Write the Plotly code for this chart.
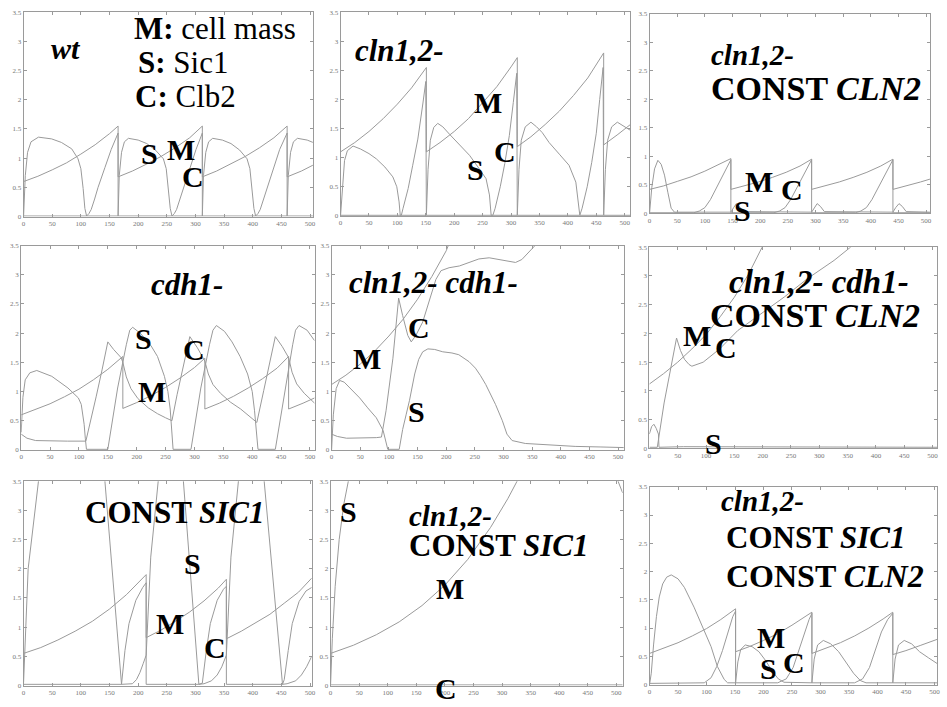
import plotly.graph_objects as go

W, H = 947, 707

# ---------------- tick labels ----------------
X_TICKS = [0, 50, 100, 150, 200, 250, 300, 350, 400, 450, 500]
X_TICK_TEXT = ["0", "50", "100", "150", "200", "250", "300", "350", "400", "450", "500"]
Y_TICKS = [0, 0.5, 1, 1.5, 2, 2.5, 3, 3.5]
Y_TICK_TEXT = ["0", "0.5", "1", "1.5", "2", "2.5", "3", "3.5"]

# ---------------- data: (time, level) pairs ----------------
# panel 1: wt
wt_mass = [(0,0.6),(25,0.69),(50,0.8),(75,0.92),(100,1.07),(125,1.23),(150,1.42),(165,1.55),(165,0.68),
           (190,0.78),(215,0.9),(240,1.03),(265,1.18),(290,1.35),(312,1.55),(312,0.68),(337,0.78),(362,0.9),
           (387,1.03),(412,1.18),(437,1.35),(460,1.55),(460,0.68),(485,0.78),(505,0.88)]
wt_sic1 = [(0,0.0),(3,0.7),(7,1.1),(13,1.28),(26,1.36),(49,1.33),(66,1.27),(84,1.16),(95,0.99),(100,0.82),
           (104,0.48),(107,0.14),(110,0.01),(165,0.01),(167,0.7),(171,1.1),(176,1.28),(183,1.34),(200,1.31),
           (215,1.25),(230,1.14),(244,0.99),(249,0.82),(253,0.48),(256,0.14),(259,0.01),(312,0.01),(314,0.7),
           (318,1.1),(323,1.28),(330,1.34),(347,1.31),(362,1.25),(377,1.14),(390,0.99),(395,0.82),(399,0.48),
           (402,0.14),(405,0.01),(460,0.01),(462,0.7),(466,1.1),(471,1.28),(478,1.34),(495,1.31),(505,1.27)]
wt_clb2 = [(0,0.01),(110,0.01),(114,0.05),(118,0.12),(124,0.3),(130,0.5),(142,0.84),(153,1.15),(165,1.43),
           (165,0.01),(259,0.01),(263,0.05),(267,0.12),(273,0.3),(279,0.5),(290,0.84),(301,1.15),(312,1.43),
           (312,0.01),(405,0.01),(409,0.05),(413,0.12),(419,0.3),(425,0.5),(436,0.84),(447,1.15),(460,1.43),
           (460,0.01),(505,0.01)]

# panel 2: cln1,2-
cln_mass = [(0,1.1),(25,1.26),(50,1.45),(75,1.67),(100,1.92),(125,2.2),(151,2.55),(151,1.1),(175,1.26),
            (200,1.45),(225,1.67),(250,1.94),(275,2.22),(300,2.56),(311,2.72),(311,1.19),(335,1.36),(360,1.57),
            (385,1.8),(410,2.07),(435,2.37),(463,2.8),(463,1.22),(488,1.4),(510,1.57)]
cln_sic1 = [(0,0.0),(3,0.5),(7,0.95),(12,1.12),(22,1.2),(35,1.15),(50,1.07),(63,0.98),(78,0.84),(92,0.67),
            (99,0.5),(103,0.24),(105,0.01),(151,0.01),(154,0.8),(158,1.3),(164,1.52),(171,1.59),(180,1.53),
            (192,1.4),(209,1.23),(227,1.04),(244,0.81),(256,0.64),(262,0.36),(265,0.01),(311,0.01),(314,0.8),
            (318,1.3),(325,1.53),(335,1.61),(345,1.53),(355,1.43),(367,1.26),(385,1.06),(402,0.87),(414,0.58),
            (418,0.24),(421,0.01),(463,0.01),(466,0.8),(470,1.3),(477,1.53),(487,1.61),(498,1.55),(510,1.47)]
cln_clb2 = [(0,0.01),(107,0.01),(110,0.13),(119,0.47),(127,0.87),(136,1.32),(145,1.94),(150,2.31),(151,0.01),
            (268,0.01),(272,0.13),(281,0.5),(289,0.9),(297,1.38),(304,1.95),(310,2.45),(311,0.01),(421,0.01),
            (425,0.13),(434,0.5),(442,0.92),(450,1.42),(456,2.0),(462,2.55),(463,0.01),(510,0.01)]

# panel 3: cln1,2- CONST CLN2
clnc_mass = [(0,0.42),(25,0.48),(50,0.56),(75,0.64),(100,0.74),(125,0.85),(147,0.96),(147,0.42),(172,0.48),
             (197,0.55),(222,0.63),(247,0.72),(272,0.83),(293,0.95),(293,0.42),(318,0.48),(343,0.55),(368,0.63),
             (393,0.72),(418,0.83),(440,0.95),(440,0.42),(465,0.48),(490,0.55),(507,0.6)]
clnc_sic1 = [(0,0.0),(4,0.45),(9,0.78),(15,0.93),(21,0.86),(27,0.67),(33,0.37),(39,0.09),(45,0.02),(147,0.02),
             (152,0.1),(157,0.17),(163,0.11),(170,0.03),(293,0.02),(298,0.1),(303,0.17),(309,0.12),(316,0.03),
             (440,0.02),(445,0.1),(451,0.17),(457,0.12),(464,0.03),(507,0.02)]
clnc_clb2 = [(0,0.01),(80,0.01),(90,0.04),(100,0.1),(110,0.24),(120,0.43),(130,0.6),(138,0.78),(147,0.94),
             (147,0.01),(225,0.01),(235,0.04),(245,0.1),(255,0.24),(265,0.43),(275,0.6),(284,0.78),(293,0.94),
             (293,0.01),(372,0.01),(382,0.04),(392,0.1),(402,0.24),(412,0.43),(422,0.6),(431,0.78),(440,0.94),
             (440,0.01),(507,0.01)]

# panel 4: cdh1-
cdh_mass = [(0,0.6),(25,0.69),(50,0.79),(75,0.91),(100,1.04),(125,1.2),(150,1.38),(176,1.6),(176,0.71),
            (200,0.81),(225,0.93),(250,1.07),(275,1.23),(300,1.41),(318,1.57),(318,0.7),(343,0.8),(368,0.92),
            (393,1.06),(418,1.22),(443,1.4),(463,1.6),(463,0.7),(488,0.8),(508,0.89)]
cdh_sic1 = [(0,0.3),(3,0.9),(7,1.2),(15,1.32),(27,1.36),(53,1.26),(81,1.06),(99,0.89),(104,0.78),(109,0.44),
            (111,0.2),(113,0.01),(150,0.01),(167,1.06),(182,1.8),(188,2.05),(193,2.1),(207,1.99),(225,1.78),
            (236,1.6),(248,1.26),(254,1.0),(258,0.7),(261,0.3),(263,0.01),(294,0.01),(311,1.06),(326,1.8),
            (332,2.05),(338,2.13),(352,2.03),(365,1.85),(379,1.6),(392,1.3),(400,1.0),(404,0.67),(407,0.27),
            (410,0.01),(440,0.01),(457,1.06),(470,1.8),(475,2.05),(481,2.13),(495,2.05),(508,1.87)]
cdh_clb2 = [(0,0.27),(10,0.2),(25,0.16),(50,0.15),(80,0.15),(112,0.15),(120,0.47),(130,0.92),(140,1.37),
            (150,1.85),(160,1.72),(173,1.58),(176,1.5),(182,1.25),(190,1.05),(202,0.88),(220,0.72),(236,0.62),
            (250,0.55),(261,0.5),(270,0.95),(280,1.4),(292,1.94),(305,1.75),(318,1.52),(324,1.3),(332,1.12),
            (345,0.97),(362,0.82),(380,0.7),(395,0.58),(408,0.47),(420,1.02),(430,1.47),(440,1.94),(452,1.77),
            (463,1.58),(469,1.33),(477,1.13),(490,0.97),(508,0.8)]

# panel 5: cln1,2- cdh1-
cc_mass = [(0,1.12),(25,1.28),(50,1.47),(75,1.69),(100,1.95),(125,2.24),(150,2.58),(175,2.97),(200,3.41),
           (215,3.78)]
cc_sic1 = [(0,0.0),(3,0.6),(8,1.05),(14,1.19),(22,1.16),(35,1.03),(49,0.89),(63,0.72),(78,0.55),(90,0.33),
           (95,0.15),(98,0.01),(118,0.01),(124,0.35),(130,0.6),(136,0.85),(145,1.3),(152,1.55),(159,1.68),
           (168,1.73),(180,1.72),(194,1.68),(210,1.66),(222,1.63),(240,1.51),(251,1.4),(260,1.27),(269,1.12),
           (286,0.78),(298,0.5),(306,0.27),(315,0.16),(338,0.11),(367,0.09),(425,0.06),(470,0.05),(510,0.04)]
cc_clb2 = [(0,0.27),(10,0.23),(26,0.2),(50,0.2),(78,0.21),(87,0.22),(95,0.67),(107,1.57),(117,2.6),(124,2.3),
           (133,1.96),(139,1.85),(147,1.96),(159,2.19),(170,2.53),(182,2.92),(191,3.07),(205,3.12),(223,3.15),
           (240,3.21),(257,3.27),(275,3.29),(292,3.26),(309,3.22),(321,3.21),(332,3.26),(344,3.38),(355,3.5),
           (365,3.62)]

# panel 6: cln1,2- cdh1- CONST CLN2
ccc_mass = [(0,1.12),(25,1.3),(50,1.5),(75,1.73),(100,1.98),(125,2.29),(150,2.63),(175,3.03),(199,3.5),
            (210,3.7)]
ccc_sic1 = [(0,0.25),(4,0.38),(8,0.42),(12,0.35),(16,0.25),(17,0.02),(60,0.03),(150,0.03),(250,0.03),
            (350,0.02),(508,0.02)]
ccc_clb2 = [(0,0.02),(14,0.02),(26,0.79),(37.5,1.39),(48,1.92),(55,1.7),(62,1.55),(70,1.46),(75,1.43),
            (95,1.5),(124,1.73),(156,2.05),(199,2.36),(239,2.64),(280,2.96),(326,3.27),(355,3.5),(370,3.6)]

# panel 7: CONST SIC1
cs_mass = [(0,0.55),(30,0.65),(60,0.78),(90,0.93),(120,1.1),(150,1.31),(180,1.56),(214,1.9),(214,0.82),
           (240,0.95),(265,1.1),(290,1.26),(315,1.45),(340,1.67),(354,1.82),(354,0.8),(380,0.93),(405,1.07),
           (430,1.22),(455,1.41),(480,1.6),(503,1.84)]
cs_sic1 = [(0,0.05),(8,2.0),(26,3.5),(40,4.6),(120,4.8),(142,3.5),(171,0.02),(190,0.03),(197,0.1),(203,0.22),
           (209,0.38),(214,0.52),(222,2.2),(234,3.5),(245,4.5),(268,4.6),(279,3.5),(306,0.02),(315,0.03),
           (328,0.08),(338,0.18),(346,0.32),(354,0.52),(362,2.2),(374,3.5),(385,4.5),(408,4.6),(420,3.5),
           (452,0.02),(460,0.03),(475,0.08),(485,0.18),(494,0.32),(503,0.5)]
cs_clb2 = [(0,0.02),(171,0.02),(177,0.6),(184,1.06),(196,1.46),(208,1.68),(214,1.76),(214,0.02),(306,0.02),
           (312,0.04),(319,0.6),(326,1.06),(338,1.46),(349,1.65),(354,1.7),(354,0.02),(452,0.02),(455,0.1),
           (462,0.6),(469,1.06),(481,1.44),(493,1.62),(503,1.68)]

# panel 8: cln1,2- CONST SIC1
ccs_mass = [(0,0.55),(40,0.69),(80,0.87),(120,1.09),(160,1.37),(200,1.72),(240,2.16),(280,2.71),(310,3.2),
            (330,3.57)]
ccs_sic1 = [(0,0.02),(3,0.8),(8,1.7),(15,2.5),(23,3.1),(31,3.5),(60,4.6),(450,4.6),(503,3.5),(511,3.3)]
ccs_clb2 = [(0,0.01),(100,0.01),(200,0.01),(300,0.01),(400,0.01),(511,0.01)]

# panel 9: cln1,2- CONST SIC1 CONST CLN2
ccsc_mass = [(0,0.55),(25,0.64),(50,0.74),(75,0.86),(100,0.99),(125,1.15),(151,1.34),(151,0.58),(175,0.67),
             (200,0.78),(225,0.9),(250,1.05),(275,1.22),(285,1.28),(285,0.55),(310,0.64),(335,0.74),(360,0.86),
             (385,1.0),(410,1.16),(427,1.28),(427,0.53),(450,0.6),(475,0.69),(505,0.8)]
ccsc_sic1 = [(0,0.0),(3,0.2),(7,0.7),(12,1.2),(17,1.55),(23,1.78),(30,1.9),(38,1.94),(50,1.87),(61,1.72),
             (78,1.37),(93,1.02),(108,0.67),(119,0.32),(131,0.09),(137,0.03),(151,0.03),(155,0.4),(160,0.62),
             (168,0.7),(180,0.67),(192,0.58),(204,0.42),(215,0.24),(226,0.1),(236,0.04),(285,0.03),(289,0.45),
             (295,0.7),(305,0.78),(318,0.72),(332,0.58),(345,0.4),(358,0.2),(370,0.07),(380,0.03),(427,0.03),
             (431,0.45),(437,0.7),(447,0.78),(460,0.72),(474,0.58),(490,0.47),(505,0.37)]
ccsc_clb2 = [(0,0.02),(96,0.03),(108,0.12),(118,0.32),(128,0.6),(138,0.93),(146,1.2),(151,1.3),(151,0.03),
             (225,0.03),(240,0.1),(252,0.3),(262,0.6),(272,0.93),(280,1.15),(285,1.26),(285,0.03),(360,0.03),
             (374,0.1),(386,0.3),(396,0.6),(407,0.93),(418,1.15),(427,1.26),(427,0.03),(505,0.03)]

# ---------------- layout (pixel boxes: left, right, top, bottom, x max) ----------------
panels = [
    dict(series=[wt_mass, wt_sic1, wt_clb2],       box=(21.7, 312.9, 8.3, 215.0), xmax=505),
    dict(series=[cln_mass, cln_sic1, cln_clb2],    box=(340.7, 632.4, 8.3, 214.3), xmax=510),
    dict(series=[clnc_mass, clnc_sic1, clnc_clb2], box=(651.7, 933.9, 10.0, 211.7), xmax=507),
    dict(series=[cdh_mass, cdh_sic1, cdh_clb2],    box=(19.3, 314.6, 244.3, 451.0), xmax=508),
    dict(series=[cc_mass, cc_sic1, cc_clb2],       box=(331.7, 625.8, 244.3, 451.0), xmax=510),
    dict(series=[ccc_mass, ccc_sic1, ccc_clb2],    box=(651.5, 941.1, 246.0, 449.5), xmax=508),
    dict(series=[cs_mass, cs_sic1, cs_clb2],       box=(21.7, 311.7, 482.7, 689.3), xmax=503),
    dict(series=[ccs_mass, ccs_sic1, ccs_clb2],    box=(330.7, 624.6, 482.7, 689.3), xmax=511),
    dict(series=[ccsc_mass, ccsc_sic1, ccsc_clb2], box=(651.7, 941.2, 488.3, 688.3), xmax=505),
]

LINE = "#9a9a9a"
FRAME = "#9a9a9a"
TICKFONT = dict(family="Liberation Serif", size=7, color="#777777")

fig = go.Figure()
layout = {}
for i, p in enumerate(panels, 1):
    sfx = "" if i == 1 else str(i)
    xa, ya = "x" + sfx, "y" + sfx
    for pairs in p["series"]:
        xs = [a for a, b in pairs]
        ys = [b for a, b in pairs]
        fig.add_trace(go.Scatter(x=xs, y=ys, mode="lines", line=dict(color=LINE, width=1),
                                 xaxis=xa, yaxis=ya, showlegend=False, hoverinfo="skip"))
    l, r, t, b = p["box"]
    common = dict(showline=True, linecolor=FRAME, linewidth=1, mirror="ticks", ticks="inside",
                  ticklen=3, tickcolor=FRAME, tickwidth=1, showgrid=False, zeroline=False,
                  tickfont=TICKFONT, fixedrange=True)
    layout["xaxis" + sfx] = dict(domain=[l / W, r / W], range=[0, p["xmax"]], anchor=ya,
                                 tickmode="array", tickvals=X_TICKS, ticktext=X_TICK_TEXT, **common)
    layout["yaxis" + sfx] = dict(domain=[1 - b / H, 1 - t / H], range=[0, 3.5], anchor=xa,
                                 tickmode="array", tickvals=Y_TICKS, ticktext=Y_TICK_TEXT, **common)

# ---------------- text labels (pixel positions) ----------------
SERIF = "Liberation Serif"
labels = [
    # panel 1
    ("<b><i>wt</i></b>", 64, 45, "center", 30),
    ("<b>M:</b> cell mass", 131, 25, "left", 31),
    ("<b>S:</b> Sic1", 135, 59, "left", 31),
    ("<b>C:</b> Clb2", 132, 94, "left", 31),
    ("<b>S</b>", 148, 151, "center", 30), ("<b>M</b>", 180, 147, "center", 30), ("<b>C</b>", 192, 174, "center", 30),
    # panel 2
    ("<b><i>cln1,2-</i></b>", 353, 47, "left", 31),
    ("<b>M</b>", 489, 100, "center", 30), ("<b>S</b>", 477, 167, "center", 30), ("<b>C</b>", 506, 149, "center", 30),
    # panel 3
    ("<b><i>cln1,2-</i></b>", 712, 52, "left", 29),
    ("<b>CONST <i>CLN2</i></b>", 712, 85, "left", 34),
    ("<b>M</b>", 762, 180, "center", 30), ("<b>C</b>", 795, 188, "center", 30), ("<b>S</b>", 745, 209, "center", 30),
    # panel 4
    ("<b><i>cdh1-</i></b>", 186, 284, "center", 31),
    ("<b>S</b>", 142, 338, "center", 30), ("<b>C</b>", 193, 349, "center", 30), ("<b>M</b>", 151, 392, "center", 30),
    # panel 5
    ("<b><i>cln1,2- cdh1-</i></b>", 347, 282, "left", 31),
    ("<b>C</b>", 420, 327, "center", 30), ("<b>M</b>", 367, 359, "center", 30), ("<b>S</b>", 417, 412, "center", 30),
    # panel 6
    ("<b><i>cln1,2- cdh1-</i></b>", 730, 281, "left", 33),
    ("<b>CONST <i>CLN2</i></b>", 710, 315, "left", 34),
    ("<b>M</b>", 699, 335, "center", 30), ("<b>C</b>", 729, 347, "center", 30), ("<b>S</b>", 716, 445, "center", 30),
    # panel 7
    ("<b>CONST <i>SIC1</i></b>", 82, 514, "left", 31),
    ("<b>S</b>", 192, 566, "center", 30), ("<b>M</b>", 169, 627, "center", 30), ("<b>C</b>", 214, 651, "center", 30),
    # panel 8
    ("<b>S</b>", 349, 513, "center", 30),
    ("<b><i>cln1,2-</i></b>", 408, 518, "left", 29),
    ("<b>CONST <i>SIC1</i></b>", 408, 548, "left", 31),
    ("<b>M</b>", 451, 591, "center", 30), ("<b>C</b>", 447, 692, "center", 30),
    # panel 9
    ("<b><i>cln1,2-</i></b>", 722, 503, "left", 29),
    ("<b>CONST <i>SIC1</i></b>", 727, 540, "left", 31),
    ("<b>CONST <i>CLN2</i></b>", 727, 579, "left", 32),
    ("<b>M</b>", 774, 641, "center", 30), ("<b>S</b>", 771, 672, "center", 30), ("<b>C</b>", 797, 666, "center", 30),
]
annotations = []
for text, px, py, anchor, size in labels:
    annotations.append(dict(text=text, x=px / W, y=1 - py / H, xref="paper", yref="paper",
                            xanchor=anchor, yanchor="middle", showarrow=False,
                            font=dict(family=SERIF, size=size, color="black")))

fig.update_layout(width=W, height=H, margin=dict(l=0, r=0, t=0, b=0),
                  paper_bgcolor="white", plot_bgcolor="white",
                  annotations=annotations, **layout)

# remove the browser's default 8px page margin so the figure sits at the window origin
fig.write_html("out.html", config={"displayModeBar": False},
               post_script="document.body.style.margin='0px';")
